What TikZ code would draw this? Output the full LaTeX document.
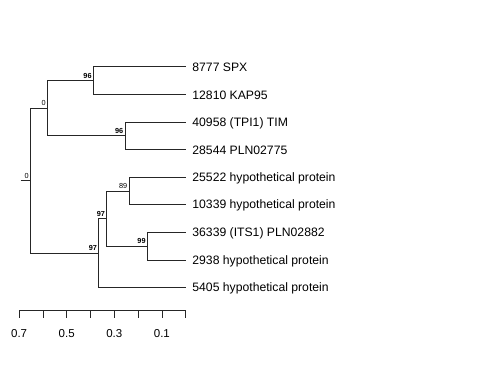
\documentclass[tikz,border=0pt]{standalone}
\usepackage{fontspec}
\setmainfont{Liberation Sans}
\usetikzlibrary{positioning}

\tikzset{
  branch/.style={line width=0.6pt, black!85},
  leaf/.style={inner sep=0pt, font=\fontsize{12.2}{14}\selectfont},
  boot/.style={anchor=south east, inner sep=0pt, font=\fontsize{7.3}{8}\selectfont\bfseries},
  bootplain/.style={boot, font=\fontsize{7.3}{8}\selectfont},
  scalelabel/.style={inner sep=0pt, font=\fontsize{11.5}{12}\selectfont},
}

\begin{document}
\begin{tikzpicture}[x=1pt,y=-1pt]
    \useasboundingbox (0,0) rectangle (480,384);
    % tips
    \foreach \i/\name in {1/8777 SPX,2/12810 KAP95,3/40958 (TPI1) TIM,4/28544 PLN02775,
        5/25522 hypothetical protein,6/10339 hypothetical protein,7/36339 (ITS1) PLN02882,
        8/2938 hypothetical protein,9/5405 hypothetical protein} {
      \coordinate (t\i) at (185.7,{66.7+27.6*(\i-1)});
      \node [leaf, right=6.5pt of t\i, yshift=-1pt] (l\i) {\name};
    }
    % inner nodes
    \coordinate (n1) at (93.3,80.5);
    \coordinate (n2) at (125,135.7);
    \coordinate (n3) at (47.3,108.1);
    \coordinate (n4) at (129,191.2);
    \coordinate (n5) at (147.3,246.2);
    \coordinate (n6) at (106.7,218.7);
    \coordinate (n7) at (98.7,253.2);
    \coordinate (root) at (30.3,180.6);
    \coordinate (stub) at (20.7,180.6);
    \draw [branch] (n1) |- (t1) (n1) |- (t2);
    \draw [branch] (n2) |- (t3) (n2) |- (t4);
    \draw [branch] (n3) |- (n1) (n3) |- (n2);
    \draw [branch] (n4) |- (t5) (n4) |- (t6);
    \draw [branch] (n5) |- (t7) (n5) |- (t8);
    \draw [branch] (n6) |- (n4) (n6) |- (n5);
    \draw [branch] (n7) |- (n6) (n7) |- (t9);
    \draw [branch] (root) |- (n3) (root) |- (n7);
    \draw [branch] (stub) -- (root);
    % support values
    \node [boot] (b1) at ([xshift=-1.5pt,yshift=2pt]n1) {96};
    \node [boot] (b2) at ([xshift=-1.5pt,yshift=2pt]n2) {96};
    \node [bootplain] (b3) at ([xshift=-1.5pt,yshift=2pt]n3) {0};
    \node [bootplain] (b4) at ([xshift=-1.5pt,yshift=2pt]n4) {89};
    \node [boot] (b5) at ([xshift=-1.5pt,yshift=2pt]n5) {99};
    \node [boot] (b6) at ([xshift=-1.5pt,yshift=2pt]n6) {97};
    \node [boot] (b7) at ([xshift=-1.5pt,yshift=2pt]n7) {97};
    \node [bootplain] (b0) at ([xshift=-1.5pt,yshift=2pt]root) {0};
    % scale
    \draw [branch] (19.1,310.7) -- (185.7,310.7);
    \foreach \i in {0,...,7}
      \draw [branch] ({185.7-23.8*\i},310.7) -- ++(0,7.3);
    \foreach \v/\lab in {1/0.1,3/0.3,5/0.5,7/0.7}
      \node [scalelabel] (s\v) at ({185.7-23.8*\v},334) {\lab};
\end{tikzpicture}
\end{document}
